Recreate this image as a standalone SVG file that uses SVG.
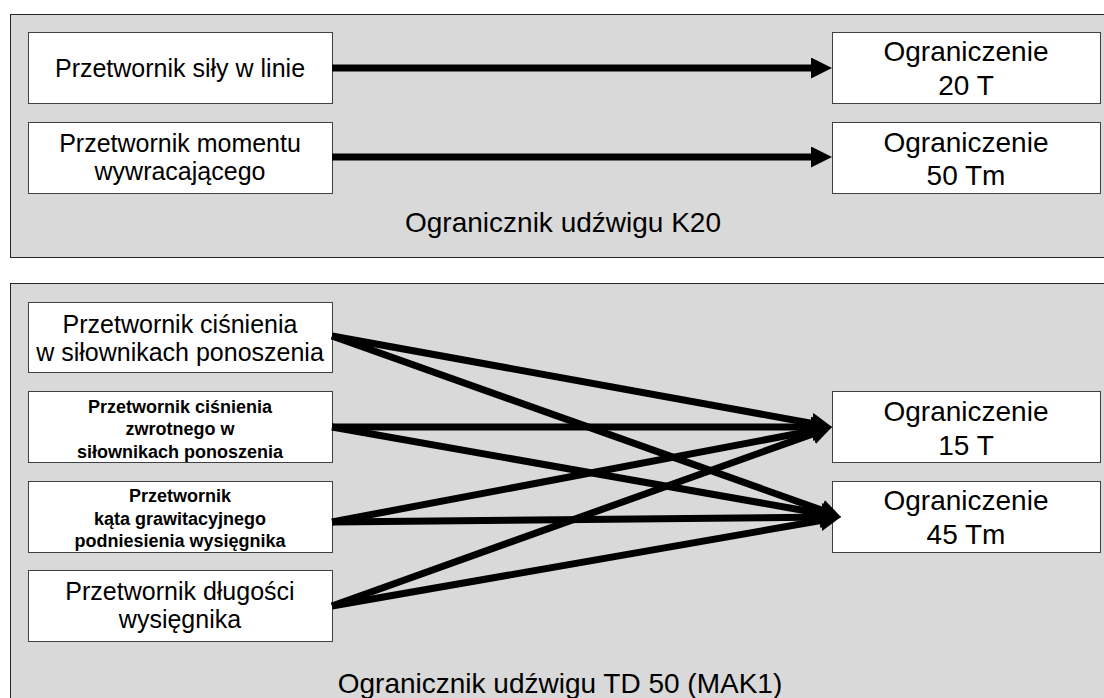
<svg xmlns="http://www.w3.org/2000/svg" width="1104" height="698" viewBox="0 0 1104 698">
  <style>
    .panel { fill: #d9d9d9; stroke: #262626; stroke-width: 1; }
    .box { fill: #ffffff; stroke: #404040; stroke-width: 1; }
    text { font-family: "Liberation Sans", Arial, sans-serif; fill: #000000; text-anchor: middle; }
    .t25 { font-size: 25px; }
    .t28 { font-size: 28px; }
    .b18 { font-size: 18px; font-weight: bold; }
    .conn { stroke: #000000; stroke-width: 7; fill: none; marker-end: url(#head); }
  </style>
  <defs>
    <marker id="head" markerUnits="userSpaceOnUse" markerWidth="21" markerHeight="21" refX="11" refY="10.5" orient="auto" viewBox="0 0 21 21">
      <path d="M0,0 L21,10.5 L0,21 z" fill="#000000"/>
    </marker>
  </defs>

  <!-- K20 limiter panel -->
  <g id="panel-k20">
    <rect class="panel" x="10.5" y="14.5" width="1110" height="243"/>
    <text class="t28" x="563" y="232">Ogranicznik udźwigu K20</text>
  </g>
  <g id="k20-force">
    <rect class="box" x="28.5" y="32.5" width="304" height="71"/>
    <text class="t25" x="180" y="77">Przetwornik siły w linie</text>
  </g>
  <g id="k20-moment">
    <rect class="box" x="28.5" y="122.5" width="304" height="71"/>
    <text class="t25" x="180" y="152">Przetwornik momentu</text>
    <text class="t25" x="180" y="180">wywracającego</text>
  </g>
  <g id="k20-limit-20t">
    <rect class="box" x="832.5" y="32.5" width="268" height="71"/>
    <text class="t28" x="966" y="61">Ograniczenie</text>
    <text class="t28" x="966" y="95">20 T</text>
  </g>
  <g id="k20-limit-50tm">
    <rect class="box" x="832.5" y="122.5" width="268" height="71"/>
    <text class="t28" x="966" y="152">Ograniczenie</text>
    <text class="t28" x="966" y="185">50 Tm</text>
  </g>

  <!-- TD 50 (MAK1) limiter panel -->
  <g id="panel-td50">
    <rect class="panel" x="10.5" y="283.5" width="1110" height="430"/>
    <text class="t28" x="560" y="693">Ogranicznik udźwigu TD 50 (MAK1)</text>
  </g>
  <g id="td50-pressure">
    <rect class="box" x="28.5" y="302.5" width="304" height="70"/>
    <text class="t25" x="180" y="333">Przetwornik ciśnienia</text>
    <text class="t25" x="180" y="361">w siłownikach ponoszenia</text>
  </g>
  <g id="td50-return-pressure">
    <rect class="box" x="28.5" y="391.5" width="304" height="71"/>
    <text class="b18" x="180" y="413">Przetwornik ciśnienia</text>
    <text class="b18" x="180" y="435">zwrotnego w</text>
    <text class="b18" x="180" y="458">siłownikach ponoszenia</text>
  </g>
  <g id="td50-angle">
    <rect class="box" x="28.5" y="481.5" width="304" height="71"/>
    <text class="b18" x="180" y="502">Przetwornik</text>
    <text class="b18" x="180" y="525">kąta grawitacyjnego</text>
    <text class="b18" x="180" y="547">podniesienia wysięgnika</text>
  </g>
  <g id="td50-length">
    <rect class="box" x="28.5" y="570.5" width="304" height="71"/>
    <text class="t25" x="180" y="600">Przetwornik długości</text>
    <text class="t25" x="180" y="628">wysięgnika</text>
  </g>
  <g id="td50-limit-15t">
    <rect class="box" x="832.5" y="391.5" width="268" height="71"/>
    <text class="t28" x="966" y="421">Ograniczenie</text>
    <text class="t28" x="966" y="455">15 T</text>
  </g>
  <g id="td50-limit-45tm">
    <rect class="box" x="832.5" y="481.5" width="268" height="71"/>
    <text class="t28" x="966" y="510">Ograniczenie</text>
    <text class="t28" x="966" y="544">45 Tm</text>
  </g>

  <!-- connectors: each line stops 10px short of its arrow tip -->
  <g id="connectors">
    <line class="conn" x1="332" y1="68" x2="822" y2="68"/>
    <line class="conn" x1="332" y1="157" x2="822" y2="157"/>

    <line class="conn" x1="332" y1="336" x2="822.2" y2="425.2"/>
    <line class="conn" x1="332" y1="336" x2="831.6" y2="513.6"/>
    <line class="conn" x1="332" y1="427" x2="822" y2="427"/>
    <line class="conn" x1="332" y1="427" x2="831.2" y2="515.3"/>
    <line class="conn" x1="332" y1="522" x2="822.2" y2="428.9"/>
    <line class="conn" x1="332" y1="522" x2="831" y2="517.1"/>
    <line class="conn" x1="332" y1="606" x2="822.6" y2="430.4"/>
    <line class="conn" x1="332" y1="606" x2="831.1" y2="518.7"/>
  </g>
</svg>
